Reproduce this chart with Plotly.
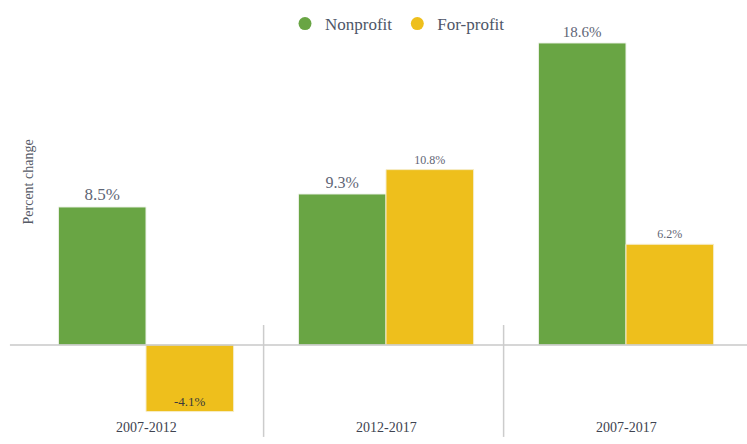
import plotly.graph_objects as go

# Percent change by period, nonprofit vs for-profit
periods = ["2007-2012", "2012-2017", "2007-2017"]
nonprofit = [8.5, 9.3, 18.6]
forprofit = [-4.1, 10.8, 6.2]
series_names = ["Nonprofit", "For-profit"]

GREEN = "#69a544"
YELLOW = "#eebf1c"
LABEL = "#5f6676"
FONT = "Liberation Serif, Times New Roman, serif"

xpos = list(range(len(periods)))

fig = go.Figure()

fig.add_trace(go.Bar(
    x=xpos, y=nonprofit, name=series_names[0], showlegend=False,
    marker=dict(color=GREEN, line=dict(color="#eef3ea", width=1)),
    text=[f"{v}%" for v in nonprofit],
    textposition="outside",
    textfont=dict(family=FONT, size=[17, 16, 15], color=LABEL),
    cliponaxis=False,
))
fig.add_trace(go.Bar(
    x=xpos, y=forprofit, name=series_names[1], showlegend=False,
    marker=dict(color=YELLOW, line=dict(color="#f6ecc8", width=1)),
    text=[f"{v}%" for v in forprofit],
    textposition=["inside" if v < 0 else "outside" for v in forprofit],
    insidetextanchor="end",
    textfont=dict(family=FONT, size=[13, 12, 12], color=LABEL),
    insidetextfont=dict(family=FONT, size=13, color="#3a3a3a"),
    cliponaxis=False,
))

# circular legend keys
for name, col in zip(series_names, [GREEN, YELLOW]):
    fig.add_trace(go.Scatter(x=[None], y=[None], mode="markers", name=name,
                             marker=dict(symbol="circle", size=13, color=col)))

shapes = [
    # zero baseline
    dict(type="line", xref="x", yref="y", x0=-0.567, x1=2.51, y0=0, y1=0,
         line=dict(color="#c8c8c8", width=1.5), layer="above"),
]
# separators between periods
for xs in [0.49, 1.49]:
    shapes.append(dict(type="line", xref="x", yref="y", x0=xs, x1=xs,
                       y0=1.23, y1=-5.66, line=dict(color="#cccccc", width=1.5)))

annotations = [
    dict(text="Percent change", xref="paper", yref="paper", x=18 / 747, y=1 - 182 / 444,
         textangle=-90, showarrow=False, font=dict(family=FONT, size=14, color="#555a66")),
]
for i, p in enumerate(periods):
    annotations.append(dict(text=p, xref="x", yref="paper", x=i, y=1 - 437 / 444,
                            showarrow=False, font=dict(family=FONT, size=14, color="#3e4350")))

fig.update_layout(
    width=747, height=444,
    margin=dict(l=0, r=0, t=0, b=0),
    paper_bgcolor="white", plot_bgcolor="white",
    barmode="group", bargap=0.27, bargroupgap=0,
    xaxis=dict(range=[-146 / 240, (747 - 146) / 240], visible=False),
    yaxis=dict(range=[-99 / 16.24, 345 / 16.24], visible=False),
    showlegend=True,
    legend=dict(orientation="h", x=0.5 + 24 / 747, xanchor="center", y=1 - 6 / 444,
                yanchor="top",
                font=dict(family=FONT, size=17, color="#4e5668"),
                itemwidth=30, traceorder="normal", bgcolor="rgba(0,0,0,0)"),
    shapes=shapes,
    annotations=annotations,
)

fig.write_html("out.html")
